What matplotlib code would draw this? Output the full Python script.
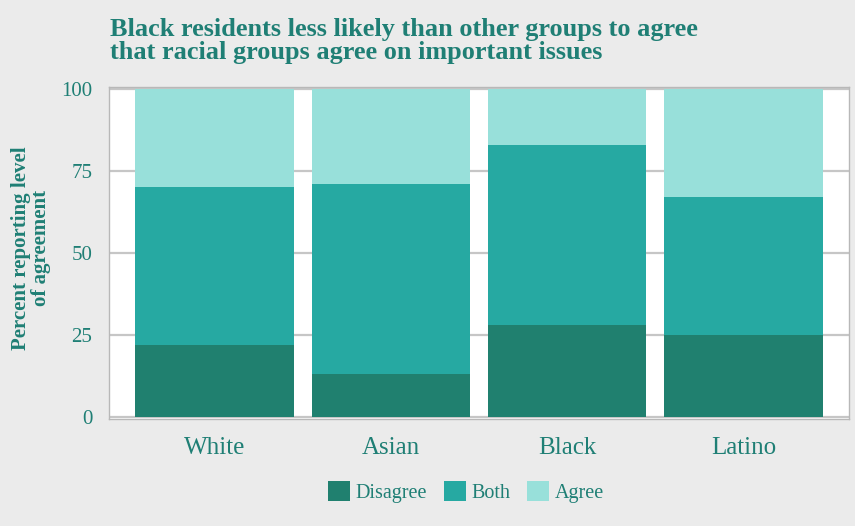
import numpy as np
import matplotlib
matplotlib.use("Agg")
import matplotlib.pyplot as plt
from matplotlib.patches import Patch

# share of residents by level of agreement, per group
groups = ["White", "Asian", "Black", "Latino"]
disagree = [22, 13, 28, 25]
both = [48, 58, 55, 42]
agree = [30, 29, 17, 33]
y_ticks = [0, 25, 50, 75, 100]

teal_dark = "#20806f"
teal_mid = "#26a9a2"
teal_light = "#98e0da"
text_color = "#1f7f75"
bg = "#ebebeb"

plt.rcParams["font.family"] = ["Liberation Serif", "DejaVu Serif"]

fig = plt.figure(figsize=(8.55, 5.26), dpi=100)
fig.patch.set_facecolor(bg)
ax = fig.add_axes([109 / 855, 1 - 419 / 526, 740 / 855, 332 / 526])
ax.set_facecolor("white")

x = np.arange(len(groups))
bottom_both = np.array(disagree)
bottom_agree = bottom_both + np.array(both)
ax.bar(x, disagree, width=0.9, color=teal_dark, zorder=3)
ax.bar(x, both, width=0.9, bottom=bottom_both, color=teal_mid, zorder=3)
ax.bar(x, agree, width=0.9, bottom=bottom_agree, color=teal_light, zorder=3)

ax.set_xlim(-0.6, 3.6)
ax.set_ylim(-0.6, 100.6)
ax.set_yticks(y_ticks)
ax.set_yticklabels([str(t) for t in y_ticks])
ax.yaxis.grid(True, color="#c6c6c6", lw=1.6, zorder=0)
ax.set_xticks(x)
ax.set_xticklabels(groups)
ax.tick_params(axis="both", length=0, colors=text_color)
ax.tick_params(axis="y", labelsize=15, pad=12)
ax.tick_params(axis="x", labelsize=18, pad=13)
for side in ["left", "right", "top", "bottom"]:
    ax.spines[side].set_color("#b8b8b8")
    ax.spines[side].set_linewidth(1.0)

fig.text(31 / 855, 1 - 248 / 526, "Percent reporting level\nof agreement",
         rotation=90, ha="center", va="center", fontsize=15,
         fontweight="bold", color=text_color, linespacing=0.95)

fig.text(110 / 855, 1 - 41 / 526,
         "Black residents less likely than other groups to agree\n"
         "that racial groups agree on important issues",
         ha="left", va="center", fontsize=18.9, fontweight="bold",
         color=text_color, linespacing=1.0)

handles = [Patch(facecolor=teal_dark, label="Disagree"),
           Patch(facecolor=teal_mid, label="Both"),
           Patch(facecolor=teal_light, label="Agree")]
leg = fig.legend(handles=handles, loc="center", bbox_to_anchor=(466 / 855, 1 - 492 / 526),
                 ncol=3, frameon=False, fontsize=14.5, handlelength=1.1,
                 handleheight=1.1, handletextpad=0.3, columnspacing=0.8)
for t in leg.get_texts():
    t.set_color(text_color)

fig.savefig("out.png", dpi=100, facecolor=bg)
